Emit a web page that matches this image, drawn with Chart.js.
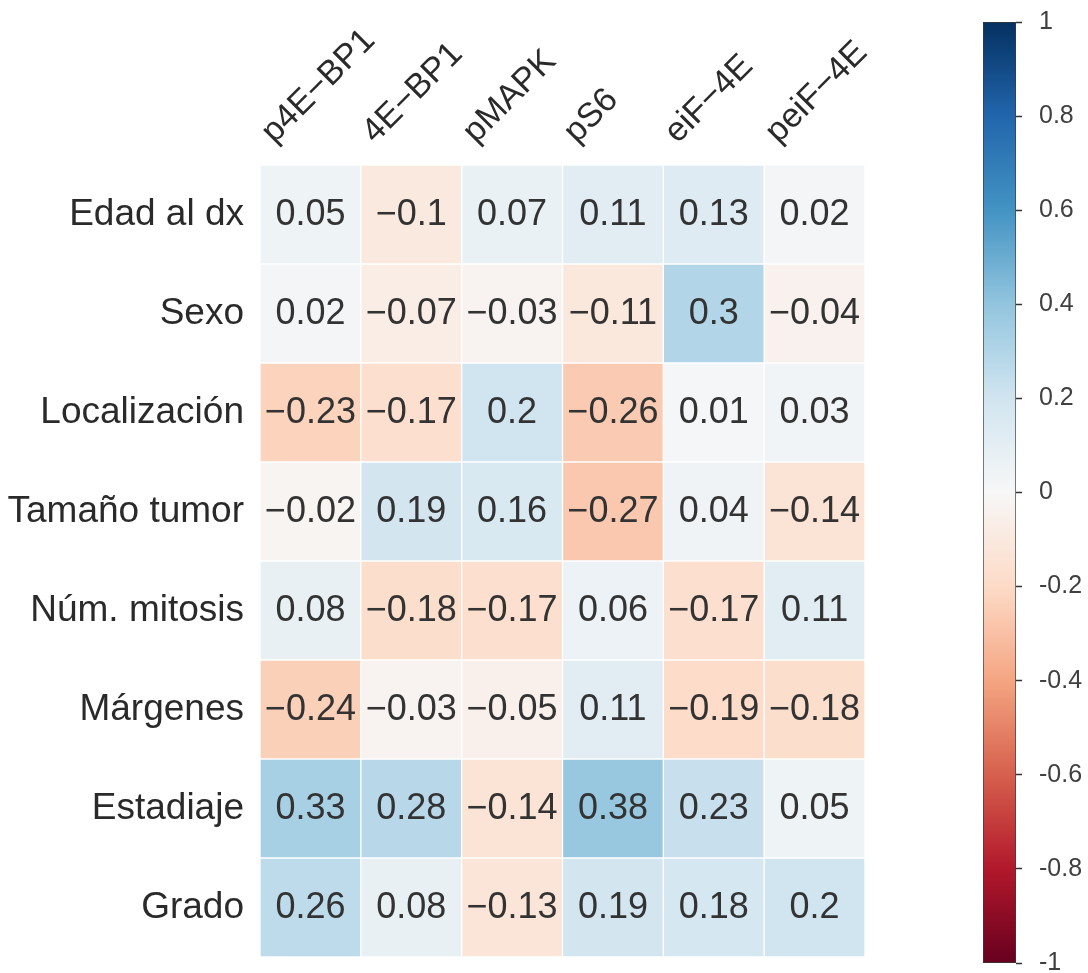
<!DOCTYPE html>
<html>
<head>
<meta charset="utf-8">
<script src="https://cdn.jsdelivr.net/npm/chart.js@4/dist/chart.umd.min.js"></script>
<style>
  html, body { margin: 0; padding: 0; background: #ffffff; }
  #wrap { position: relative; width: 1088px; height: 973px; overflow: hidden; }
  #heat { position: absolute; left: 0; top: 0; }
  #cbar { position: absolute; left: 960px; top: 0; }
</style>
</head>
<body>
<div id="wrap">
  <canvas id="heat" width="920" height="973"></canvas>
  <canvas id="cbar" width="128" height="973"></canvas>
</div>
<script>
// Clinical variables (rows) and markers (columns)
const rowLabels = ['Edad al dx', 'Sexo', 'Localización', 'Tamaño tumor',
                   'Núm. mitosis', 'Márgenes', 'Estadiaje', 'Grado'];
const colLabels = ['p4E\u2212BP1', '4E\u2212BP1', 'pMAPK', 'pS6', 'eiF\u22124E', 'peiF\u22124E'];

// Correlation coefficients, one array per row
const edadAlDx     = [0.05, -0.10, 0.07, 0.11, 0.13, 0.02];
const sexo         = [0.02, -0.07, -0.03, -0.11, 0.30, -0.04];
const localizacion = [-0.23, -0.17, 0.20, -0.26, 0.01, 0.03];
const tamanoTumor  = [-0.02, 0.19, 0.16, -0.27, 0.04, -0.14];
const numMitosis   = [0.08, -0.18, -0.17, 0.06, -0.17, 0.11];
const margenes     = [-0.24, -0.03, -0.05, 0.11, -0.19, -0.18];
const estadiaje    = [0.33, 0.28, -0.14, 0.38, 0.23, 0.05];
const grado        = [0.26, 0.08, -0.13, 0.19, 0.18, 0.20];
const rowValues = [edadAlDx, sexo, localizacion, tamanoTumor, numMitosis, margenes, estadiaje, grado];

// Colour bar range and ticks
const colorMin = -1;
const colorMax = 1;
const colorTicks = [-1, -0.8, -0.6, -0.4, -0.2, 0, 0.2, 0.4, 0.6, 0.8, 1];

// Diverging red-white-blue palette (RdBu)
const rdbu = ['#67001f', '#b2182b', '#d6604d', '#f4a582', '#fddbc7', '#f7f7f7',
              '#d1e5f0', '#92c5de', '#4393c3', '#2166ac', '#053061'];

function hexToRgb(h) {
  return [parseInt(h.slice(1, 3), 16), parseInt(h.slice(3, 5), 16), parseInt(h.slice(5, 7), 16)];
}
function colorFor(v) {
  let t = (v - colorMin) / (colorMax - colorMin);
  t = Math.max(0, Math.min(1, t));
  const pos = t * (rdbu.length - 1);
  const i = Math.min(Math.floor(pos), rdbu.length - 2);
  const f = pos - i;
  const a = hexToRgb(rdbu[i]), b = hexToRgb(rdbu[i + 1]);
  const c = a.map((x, k) => Math.round(x + (b[k] - x) * f));
  return `rgb(${c[0]},${c[1]},${c[2]})`;
}
function formatValue(v) {
  const s = String(Math.abs(Math.round(v * 100) / 100));
  return v < 0 ? '\u2212' + s : s;
}

const FONT = '"Liberation Sans", Arial, sans-serif';
const TEXT = '#2a2a2a';

// Each row is a dataset of floating bars spanning [row, row + 1]
const datasets = rowValues.map((vals, r) => ({
  label: rowLabels[r],
  data: vals.map(() => [r, r + 1]),
  values: vals,
  backgroundColor: vals.map(colorFor),
  borderColor: '#ffffff',
  borderWidth: 1,
  borderSkipped: false,
  grouped: false,
  barPercentage: 1,
  categoryPercentage: 1
}));

// Writes each coefficient in the middle of its cell
const cellText = {
  id: 'cellText',
  afterDatasetsDraw(chart) {
    const ctx = chart.ctx;
    ctx.save();
    ctx.font = `36px ${FONT}`;
    ctx.fillStyle = '#333333';
    ctx.textAlign = 'center';
    ctx.textBaseline = 'middle';
    chart.data.datasets.forEach((ds, di) => {
      chart.getDatasetMeta(di).data.forEach((el, i) => {
        const p = el.getCenterPoint();
        ctx.fillText(formatValue(ds.values[i]), p.x, p.y + 1);
      });
    });
    ctx.restore();
  }
};

new Chart(document.getElementById('heat'), {
  type: 'bar',
  data: { labels: colLabels, datasets },
  options: {
    responsive: false,
    animation: false,
    events: [],
    layout: { padding: { left: 0, top: 0, right: 55, bottom: 16 } },
    plugins: { legend: { display: false }, tooltip: { enabled: false } },
    scales: {
      x: {
        type: 'category',
        position: 'top',
        offset: true,
        grid: { display: false, drawTicks: false },
        border: { display: false },
        ticks: {
          color: TEXT,
          font: { family: FONT, size: 34 },
          minRotation: 45,
          maxRotation: 45,
          padding: 13,
          labelOffset: -14,
          autoSkip: false
        },
        afterFit(scale) {
          scale.height = 165;
          scale.paddingLeft = 0;
          scale.paddingRight = 0;
        }
      },
      y: {
        type: 'linear',
        min: 0,
        max: rowLabels.length,
        reverse: true,
        grid: { display: false, drawTicks: false },
        border: { display: false },
        afterBuildTicks(scale) {
          scale.ticks = rowLabels.map((_, i) => ({ value: i + 0.5 }));
        },
        ticks: {
          color: TEXT,
          font: { family: FONT, size: 37 },
          padding: 16,
          autoSkip: false,
          callback: (v) => rowLabels[Math.floor(v)]
        },
        afterFit(scale) {
          scale.width = 260;
          scale.paddingTop = 0;
          scale.paddingBottom = 0;
        }
      }
    }
  },
  plugins: [cellText]
});

// Colour bar: one floating bar over the full range, filled with the palette
function barGradient(context) {
  const chart = context.chart;
  if (!chart.chartArea) return '#f7f7f7';
  const y = chart.scales.y;
  const g = chart.ctx.createLinearGradient(0, y.getPixelForValue(colorMax), 0, y.getPixelForValue(colorMin));
  for (let k = 0; k < rdbu.length; k++) {
    g.addColorStop(k / (rdbu.length - 1), rdbu[rdbu.length - 1 - k]);
  }
  return g;
}

new Chart(document.getElementById('cbar'), {
  type: 'bar',
  data: {
    labels: [''],
    datasets: [{
      data: [[colorMin, colorMax]],
      backgroundColor: barGradient,
      borderColor: '#3a3a3a',
      borderWidth: 1,
      borderSkipped: false,
      barPercentage: 1,
      categoryPercentage: 1
    }]
  },
  options: {
    responsive: false,
    animation: false,
    events: [],
    layout: { padding: { left: 23, top: 22, right: 0, bottom: 10 } },
    plugins: { legend: { display: false }, tooltip: { enabled: false } },
    scales: {
      x: { display: false },
      y: {
        position: 'right',
        min: colorMin,
        max: colorMax,
        grid: { drawOnChartArea: false, drawTicks: true, tickLength: 6, color: '#333333', tickWidth: 1.5 },
        border: { display: false },
        afterBuildTicks(scale) {
          scale.ticks = colorTicks.map(v => ({ value: v }));
        },
        ticks: {
          color: '#404040',
          font: { family: FONT, size: 25 },
          padding: 17,
          autoSkip: false,
          callback: (v) => {
            const r = Math.round(v * 10) / 10;
            return r === 0 ? '0' : String(r);
          }
        },
        afterFit(scale) {
          scale.width = 72;
          scale.paddingTop = 0;
          scale.paddingBottom = 0;
        }
      }
    }
  }
});
</script>
</body>
</html>
